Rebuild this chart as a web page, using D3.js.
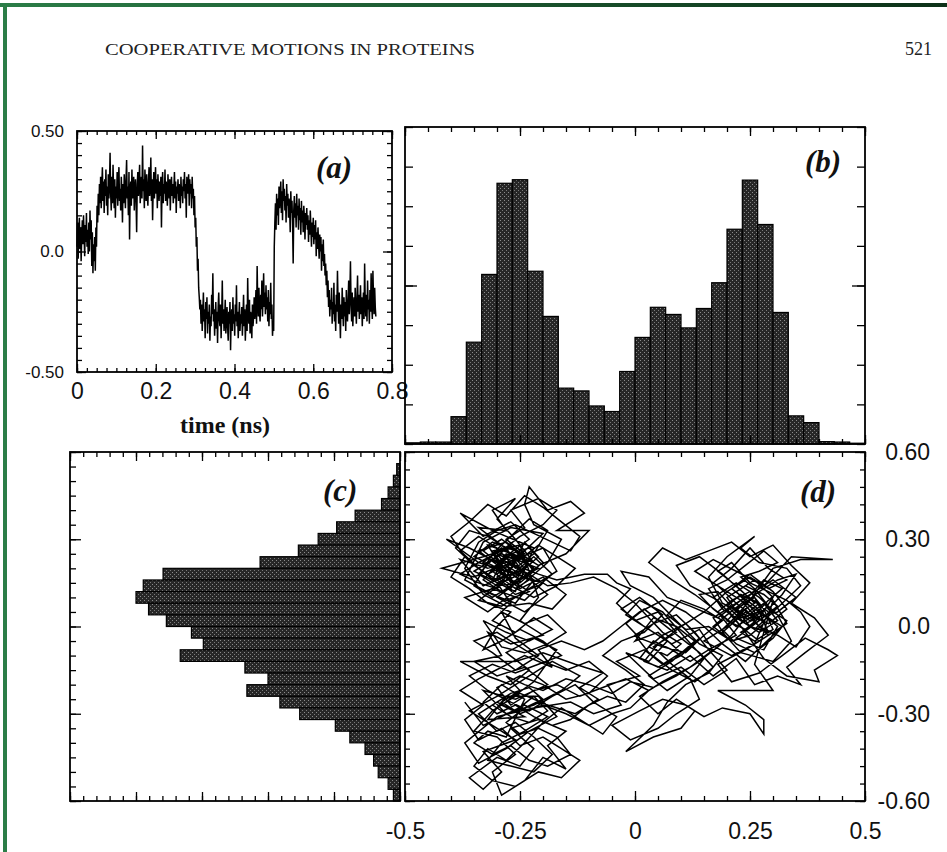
<!DOCTYPE html>
<html>
<head>
<meta charset="utf-8">
<script src="https://cdn.jsdelivr.net/npm/d3@7"></script>
<style>
body { margin: 0; background: #fff; }
svg { display: block; }
.tick line { stroke: #000; stroke-width: 1.3; }
.tick text { font-family: "Liberation Sans", Arial, sans-serif; fill: #111; }
</style>
</head>
<body>
<script>
//panel (a): trace value vs time, one sample every 0.0015 ns
var timeStep = 0.0015;
var traceValues = [
    0.02, 0.12, -0.03, 0.08, 0.14, 0.01, 0.10, -0.04, 0.06, 0.13,
    0.03, 0.15, 0.07, -0.02, 0.11, 0.04, 0.16, 0.02, 0.09, -0.01,
    0.12, 0.00, 0.17, 0.05, 0.13, -0.06, 0.08, -0.09, 0.03, -0.04,
    0.06, -0.08, 0.10, 0.02, 0.19, 0.12, 0.24, 0.15, 0.28, 0.20,
    0.31, 0.18, 0.27, 0.35, 0.21, 0.29, 0.16, 0.30, 0.23, 0.34,
    0.19, 0.27, 0.15, 0.32, 0.22, 0.28, 0.41, 0.24, 0.17, 0.31,
    0.20, 0.36, 0.25, 0.18, 0.30, 0.14, 0.27, 0.22, 0.33, 0.19,
    0.29, 0.35, 0.21, 0.26, 0.17, 0.31, 0.24, 0.12, 0.28, 0.20,
    0.32, 0.25, 0.18, 0.30, 0.38, 0.22, 0.27, 0.15, 0.33, 0.05,
    0.24, 0.29, 0.19, 0.34, 0.22, 0.27, 0.31, 0.17, 0.25, 0.30,
    0.21, 0.08, 0.28, 0.33, 0.23, 0.29, 0.36, 0.20, 0.26, 0.31,
    0.22, 0.44, 0.25, 0.30, 0.18, 0.34, 0.27, 0.21, 0.32, 0.24,
    0.19, 0.29, 0.35, 0.23, 0.27, 0.39, 0.21, 0.30, 0.13, 0.26,
    0.33, 0.22, 0.28, 0.35, 0.24, 0.30, 0.18, 0.32, 0.26, 0.21,
    0.29, 0.23, 0.31, 0.10, 0.27, 0.33, 0.20, 0.28, 0.24, 0.34,
    0.21, 0.29, 0.25, 0.19, 0.32, 0.26, 0.22, 0.30, 0.17, 0.27,
    0.31, 0.23, 0.28, 0.20, 0.26, 0.33, 0.22, 0.29, 0.16, 0.27,
    0.24, 0.30, 0.21, 0.28, 0.25, 0.18, 0.31, 0.23, 0.27, 0.20,
    0.30, 0.25, 0.33, 0.22, 0.28, 0.14, 0.31, 0.26, 0.24, 0.32,
    0.19, 0.30, 0.24, 0.28, 0.18, 0.31, 0.22, 0.26, 0.15, 0.23,
    0.10, 0.14, 0.02, 0.06, -0.08, -0.03, -0.15, -0.19, -0.24, -0.20,
    -0.30, -0.22, -0.33, -0.26, -0.17, -0.29, -0.24, -0.36, -0.21, -0.28,
    -0.19, -0.34, -0.25, -0.30, -0.22, -0.37, -0.27, -0.31, -0.18, -0.26,
    -0.09, -0.29, -0.24, -0.35, -0.27, -0.21, -0.32, -0.25, -0.38, -0.23,
    -0.17, -0.28, -0.31, -0.22, -0.36, -0.26, -0.12, -0.30, -0.24, -0.33,
    -0.27, -0.20, -0.34, -0.29, -0.23, -0.31, -0.37, -0.25, -0.30, -0.21,
    -0.41, -0.28, -0.24, -0.33, -0.19, -0.30, -0.26, -0.35, -0.22, -0.29,
    -0.14, -0.31, -0.25, -0.36, -0.28, -0.21, -0.33, -0.26, -0.30, -0.23,
    -0.35, -0.27, -0.18, -0.31, -0.24, -0.37, -0.29, -0.22, -0.33, -0.11,
    -0.26, -0.30, -0.20, -0.34, -0.25, -0.29, -0.36, -0.22, -0.31, -0.27,
    -0.19, -0.28, -0.23, -0.16, -0.30, -0.06, -0.21, -0.27, -0.15, -0.25,
    -0.29, -0.18, -0.24, -0.12, -0.27, -0.20, -0.09, -0.23, -0.17, -0.26,
    -0.14, -0.24, -0.19, -0.29, -0.16, -0.31, -0.21, -0.26, -0.13, -0.28,
    -0.22, -0.35, -0.30, -0.33, 0.02, 0.12, 0.20, 0.09, 0.24, 0.15,
    0.22, 0.11, 0.27, 0.18, 0.23, 0.29, 0.16, 0.25, 0.13, 0.30,
    0.21, 0.26, 0.17, 0.23, 0.12, 0.28, 0.19, 0.24, 0.14, 0.22,
    0.18, 0.08, 0.25, 0.16, 0.21, 0.11, -0.05, 0.17, 0.23, 0.14,
    0.20, 0.10, 0.24, 0.15, 0.19, 0.09, 0.22, 0.13, 0.18, 0.07,
    0.21, 0.12, 0.17, 0.08, 0.19, 0.14, 0.05, 0.16, 0.11, 0.18,
    0.09, 0.15, 0.04, 0.13, 0.07, 0.17, 0.10, 0.02, 0.12, 0.06,
    0.14, 0.03, 0.11, 0.05, 0.13, -0.02, 0.08, 0.01, 0.10, 0.04,
    -0.03, 0.07, 0.00, 0.06, -0.08, 0.03, -0.04, 0.05, -0.06, -0.01,
    -0.10, -0.05, -0.14, -0.08, -0.19, -0.12, -0.23, -0.16, -0.27, -0.20,
    -0.24, -0.15, -0.30, -0.21, -0.26, -0.13, -0.29, -0.22, -0.33, -0.18,
    -0.25, -0.08, -0.21, -0.30, -0.17, -0.26, -0.36, -0.22, -0.28, -0.15,
    -0.24, -0.31, -0.19, -0.27, -0.21, -0.33, -0.16, -0.25, -0.29, -0.20,
    -0.12, -0.26, -0.18, -0.04, -0.22, -0.29, -0.17, -0.31, -0.24, -0.19,
    -0.27, -0.15, -0.23, -0.30, -0.20, -0.10, -0.25, -0.18, -0.28, -0.22,
    -0.14, -0.26, -0.19, -0.31, -0.23, -0.17, -0.28, -0.05, -0.21, -0.27,
    -0.18, -0.29, -0.12, -0.24, -0.20, -0.30, -0.16, -0.25, -0.09, -0.22,
    -0.28, -0.08, -0.19, -0.26, -0.15, -0.23, -0.27
];

//panel (b): histogram of x, 30 bins from -0.5 to 0.5
var xBinStart = -0.5, xBinWidth = 1 / 30;
var xCounts = [0.03, 0.05, 0.05, 0.69, 2.57, 4.28, 6.58, 6.67, 4.36, 3.22,
    1.41, 1.34, 0.96, 0.82, 1.83, 2.69, 3.45, 3.27, 2.93, 3.42,
    4.07, 5.42, 6.66, 5.54, 3.32, 0.71, 0.54, 0.06, 0.05, 0.02];

//panel (c): histogram of y, 30 bins from 0.6 down to -0.6
var yBinTop = 0.6, yBinWidth = 0.04;
var yCounts = [0, 0.05, 0.10, 0.18, 0.28, 0.68, 0.96, 1.24, 1.54, 2.12,
    3.59, 3.89, 4.00, 3.81, 3.54, 3.16, 2.98, 3.33, 2.35, 2.00,
    2.32, 1.82, 1.52, 0.98, 0.76, 0.53, 0.40, 0.33, 0.18, 0.10];

//panel (d): the (x, y) trajectory
var trajectory = [
    [-0.30,0.18],[-0.25,0.24],[-0.32,0.28],[-0.27,0.15],[-0.21,0.20],[-0.29,0.25],[-0.35,0.19],[-0.26,0.12],[-0.22,0.27],[-0.31,0.33],
    [-0.38,0.39],[-0.33,0.31],[-0.27,0.36],[-0.23,0.30],[-0.30,0.22],[-0.36,0.27],[-0.41,0.30],[-0.34,0.22],[-0.28,0.19],[-0.20,0.15],
    [-0.24,0.09],[-0.31,0.13],[-0.37,0.10],[-0.32,0.05],[-0.27,0.11],[-0.19,0.22],[-0.16,0.30],[-0.22,0.35],[-0.24,0.42],[-0.23,0.48],
    [-0.19,0.40],[-0.14,0.43],[-0.11,0.39],[-0.17,0.33],[-0.10,0.33],[-0.15,0.25],[-0.21,0.21],[-0.27,0.27],[-0.33,0.24],[-0.42,0.20],
    [-0.35,0.17],[-0.29,0.21],[-0.25,0.16],[-0.30,0.10],[-0.24,0.05],[-0.19,0.11],[-0.25,0.19],[-0.31,0.16],[-0.28,0.25],[-0.22,0.22],
    [-0.26,0.30],[-0.30,0.37],[-0.26,0.44],[-0.31,0.40],[-0.28,0.33],[-0.34,0.34],[-0.29,0.28],[-0.24,0.20],[-0.33,0.14],[-0.38,0.23],
    [-0.32,0.20],[-0.26,0.23],[-0.20,0.27],[-0.17,0.19],[-0.23,0.13],[-0.29,0.07],[-0.34,0.09],[-0.27,0.17],[-0.31,0.26],[-0.25,0.28],
    [-0.21,0.10],[-0.25,0.02],[-0.20,-0.03],[-0.27,-0.06],[-0.32,-0.02],[-0.29,-0.10],[-0.35,-0.12],[-0.30,-0.17],[-0.24,-0.14],[-0.19,-0.20],
    [-0.26,-0.25],[-0.33,-0.22],[-0.28,-0.30],[-0.22,-0.27],[-0.16,-0.22],[-0.12,-0.17],[-0.18,-0.12],[-0.24,-0.18],[-0.30,-0.24],[-0.36,-0.29],
    [-0.31,-0.34],[-0.26,-0.39],[-0.33,-0.43],[-0.29,-0.50],[-0.33,-0.56],[-0.36,-0.52],[-0.30,-0.45],[-0.25,-0.48],[-0.22,-0.42],[-0.27,-0.35],
    [-0.21,-0.32],[-0.15,-0.36],[-0.19,-0.41],[-0.15,-0.49],[-0.20,-0.45],[-0.24,-0.53],[-0.29,-0.58],[-0.31,-0.50],[-0.26,-0.44],[-0.30,-0.38],
    [-0.35,-0.36],[-0.31,-0.29],[-0.25,-0.23],[-0.19,-0.27],[-0.13,-0.30],[-0.08,-0.25],[-0.12,-0.21],[-0.07,-0.16],[-0.13,-0.13],[-0.20,-0.09],
    [-0.26,-0.12],[-0.33,-0.12],[-0.38,-0.12],[-0.32,-0.17],[-0.27,-0.20],[-0.23,-0.15],[-0.28,-0.09],[-0.22,-0.04],[-0.17,-0.08],[-0.22,-0.19],
    [-0.29,-0.27],[-0.24,-0.31],[-0.32,-0.32],[-0.28,-0.24],[-0.21,-0.24],[-0.17,-0.31],[-0.23,-0.36],[-0.28,-0.42],[-0.34,-0.47],[-0.37,-0.40],
    [-0.30,-0.31],[-0.22,-0.28],[-0.14,-0.26],[-0.09,-0.30],[-0.03,-0.27],[-0.06,-0.20],[0.01,-0.17],[-0.04,-0.12],[0.02,-0.08],[0.06,-0.13],
    [0.10,-0.09],[0.05,-0.02],[0.00,-0.05],[0.04,0.03],[0.09,0.00],[0.13,-0.05],[0.08,-0.12],[0.03,-0.17],[0.07,-0.22],[0.12,-0.17],
    [0.15,-0.11],[0.11,-0.04],[0.06,0.05],[0.01,0.09],[-0.02,0.04],[0.03,-0.01],[0.08,-0.06],[0.14,-0.01],[0.17,-0.08],[0.12,-0.14],
    [0.06,-0.19],[0.01,-0.24],[0.05,-0.30],[0.09,-0.25],[0.13,-0.29],[0.10,-0.35],[0.04,-0.38],[-0.02,-0.43],[0.04,-0.34],[0.07,-0.26],
    [0.11,-0.20],[0.16,-0.16],[0.19,-0.10],[0.14,-0.06],[0.09,0.02],[0.04,0.10],[-0.01,0.14],[-0.03,0.19],[0.03,0.17],[0.07,0.10],
    [0.12,0.07],[0.18,0.03],[0.23,0.09],[0.27,0.02],[0.22,-0.04],[0.28,-0.08],[0.31,0.00],[0.26,0.07],[0.21,0.13],[0.25,0.18],
    [0.30,0.12],[0.33,0.06],[0.29,0.01],[0.24,0.05],[0.19,-0.02],[0.23,-0.09],[0.30,-0.12],[0.34,-0.05],[0.31,0.04],[0.27,0.10],
    [0.22,0.15],[0.17,0.10],[0.21,0.04],[0.26,-0.01],[0.32,0.08],[0.36,0.14],[0.33,0.20],[0.27,0.22],[0.23,0.27],[0.26,0.31],
    [0.20,0.24],[0.16,0.17],[0.19,0.08],[0.25,0.03],[0.29,-0.03],[0.24,-0.08],[0.18,-0.13],[0.21,-0.19],[0.27,-0.16],[0.32,-0.10],
    [0.37,-0.04],[0.42,-0.08],[0.44,-0.10],[0.39,-0.15],[0.40,-0.19],[0.33,-0.17],[0.28,-0.11],[0.24,-0.02],[0.20,0.06],[0.26,0.12],
    [0.30,0.16],[0.35,0.10],[0.31,0.05],[0.26,0.03],[0.22,0.08],[0.18,0.14],[0.13,0.19],[0.17,0.23],[0.22,0.19],[0.28,0.14],
    [0.34,0.24],[0.43,0.23],[0.36,0.23],[0.30,0.20],[0.25,0.09],[0.20,0.00],[0.15,-0.05],[0.21,-0.10],[0.26,-0.06],[0.29,0.05],
    [0.24,0.11],[0.19,0.18],[0.14,0.24],[0.09,0.21],[0.12,0.14],[0.18,0.09],[0.23,0.00],[0.27,-0.05],[0.33,0.01],[0.30,0.09],
    [0.26,-0.13],[0.30,-0.22],[0.22,-0.22],[0.18,-0.22],[0.24,-0.27],[0.28,-0.32],[0.28,-0.37],[0.25,-0.30],[0.19,-0.28],[0.15,-0.31],
    [0.11,-0.27],[0.06,-0.25],[0.01,-0.29],[-0.05,-0.34],[-0.01,-0.39],[0.05,-0.35],[0.09,-0.30],[0.14,-0.25],[0.12,-0.18],[0.08,-0.13],
    [0.04,-0.07],[0.09,-0.02],[0.05,0.05],[0.00,0.02],[-0.04,0.08],[-0.01,0.13],[-0.04,0.15],[-0.06,0.18],[-0.11,0.18],[-0.17,0.16],
    [-0.21,0.18],[-0.26,0.21],[-0.30,0.17],[-0.27,0.13],[-0.23,0.23],[-0.28,0.29],[-0.34,0.26],[-0.29,0.20],[-0.24,0.26],[-0.20,0.32],
    [-0.27,0.34],[-0.33,0.29],[-0.37,0.16],[-0.31,0.11],[-0.26,0.08],[-0.22,0.16],[-0.27,0.22],[-0.32,0.18],
    [-0.28,0.21],[-0.25,0.18],[-0.29,0.15],[-0.26,0.22],[-0.30,0.25],[-0.27,0.19],[-0.23,0.16],[-0.26,0.13],[-0.31,0.19],[-0.28,0.24],
    [-0.24,0.22],[-0.27,0.28],[-0.31,0.23],[-0.34,0.18],[-0.30,0.14],[-0.25,0.15],[-0.22,0.19],[-0.25,0.25],[-0.29,0.30],[-0.33,0.26],
    [-0.29,0.21],[-0.26,0.17],[-0.21,0.24],[-0.24,0.29],[-0.28,0.17],[-0.32,0.12],[-0.28,0.09],[-0.23,0.12],[-0.27,0.16],[-0.31,0.21],
    [-0.35,0.24],[-0.31,0.29],[-0.26,0.26],[-0.22,0.20],[-0.26,0.15],[-0.30,0.20],[-0.27,0.25],[-0.23,0.27],[-0.20,0.22],[-0.24,0.17],
    [-0.29,0.12],[-0.33,0.16],[-0.29,0.23],[-0.25,0.20],[-0.28,0.27],[-0.32,0.31],[-0.36,0.33],[-0.39,0.27],[-0.35,0.21],[-0.30,0.16],
    [-0.26,0.11],[-0.21,0.14],[-0.18,0.18],[-0.22,0.24],[-0.26,0.19],[-0.30,0.13],[-0.34,0.15],[-0.38,0.18],[-0.34,0.22],[-0.29,0.26],
    [-0.25,0.31],[-0.20,0.35],[-0.17,0.40],[-0.21,0.44],[-0.27,0.40],[-0.24,0.34],[-0.28,0.30],[-0.24,0.25],[-0.27,0.21],[-0.23,0.18],
    [-0.19,0.14],[-0.14,0.15],[-0.09,0.17],[-0.04,0.13],[0.00,0.08],[0.03,0.03],
    [0.06,-0.02],[0.10,-0.06],[0.07,-0.10],[0.03,-0.07],[0.06,-0.03],[0.11,0.01],[0.14,-0.04],[0.10,-0.10],[0.05,-0.14],[0.01,-0.11],
    [0.04,-0.05],[0.08,-0.08],[0.12,-0.12],[0.16,-0.08],[0.13,-0.02],[0.09,0.04],[0.04,0.01],[0.00,-0.03],[0.03,-0.09],[0.08,-0.15],
    [0.13,-0.19],[0.17,-0.14],[0.14,-0.09],[0.10,-0.04],[0.06,0.01],[0.02,0.06],[-0.02,0.01],[0.01,-0.04],[0.06,-0.07],[0.11,-0.09],
    [0.15,-0.03],[0.19,0.02],[0.15,0.06],[0.10,0.09],[0.07,0.04],[0.11,-0.01],[0.16,0.00],[0.20,-0.04],[0.17,0.03],[0.21,0.07],
    [0.24,0.04],[0.27,0.08],[0.23,0.11],[0.20,0.07],[0.24,0.01],[0.28,0.04],[0.26,0.10],[0.22,0.06],[0.25,0.00],[0.29,-0.02],
    [0.27,0.05],[0.23,0.03],[0.20,0.10],[0.24,0.14],[0.28,0.11],[0.31,0.07],[0.27,0.02],[0.23,-0.02],[0.26,-0.05],[0.30,-0.01],
    [0.28,0.06],[0.25,0.12],[0.21,0.09],[0.18,0.05],[0.22,0.00],[0.26,0.04],[0.29,0.09],[0.32,0.13],[0.28,0.16],[0.24,0.09],
    [0.20,0.04],[0.17,0.00],[0.21,-0.05],[0.25,-0.03],[0.28,0.01],[0.25,0.07],[0.22,0.12],[0.26,0.16],[0.30,0.10],[0.27,0.03],
    [0.24,-0.01],[0.20,0.02],[0.23,0.07],[0.27,0.12],[0.31,0.16],[0.35,0.18],[0.32,0.11],[0.29,0.06],[0.33,0.02],[0.30,-0.04],
    [0.26,-0.09],[0.22,-0.06],[0.19,-0.01],[0.23,0.05],[0.26,0.08],[0.22,0.14],[0.18,0.19],[0.21,0.22],[0.25,0.15],[0.29,0.12],
    [0.33,0.09],[0.36,0.05],[0.38,0.00],[0.35,-0.07],[0.31,-0.03],[0.27,0.00],[0.24,0.06],[0.21,0.01],[0.17,0.06],[0.14,0.11],
    [0.18,0.12],[0.22,0.05],[0.25,0.02],[0.29,0.07],[0.26,0.13],[0.23,0.17],[0.27,0.19],[0.31,0.22],[0.28,0.26],[0.24,0.21],
    [0.20,0.16],[0.16,0.13],[0.19,0.06],[0.23,0.02],[0.27,-0.02],[0.31,0.02],[0.28,0.08],[0.24,0.03],[0.21,-0.03],[0.18,-0.07],
    [0.14,-0.12],[0.09,-0.17],[0.04,-0.21],[-0.01,-0.19],[-0.05,-0.23],[-0.10,-0.20],[-0.15,-0.18],[-0.20,-0.22],[-0.24,-0.20],[-0.28,-0.17],
    [-0.25,-0.22],[-0.29,-0.26],[-0.26,-0.29],[-0.22,-0.24],[-0.19,-0.29],[-0.23,-0.33],[-0.27,-0.31],[-0.31,-0.27],[-0.27,-0.23],[-0.23,-0.21],
    [-0.20,-0.25],[-0.24,-0.28],[-0.28,-0.33],[-0.25,-0.37],[-0.21,-0.35],[-0.17,-0.38],[-0.14,-0.44],[-0.19,-0.48],[-0.23,-0.46],[-0.27,-0.41],
    [-0.31,-0.44],[-0.35,-0.40],[-0.32,-0.36],[-0.28,-0.38],[-0.24,-0.25],[-0.29,-0.20],[-0.33,-0.26],[-0.30,-0.30],[-0.26,-0.27],[-0.22,-0.31],
    [-0.18,-0.34],[-0.14,-0.32],[-0.10,-0.27],[-0.06,-0.24],[-0.02,-0.26],[0.02,-0.20],[-0.02,-0.15],[-0.07,-0.10],[-0.03,-0.05],[0.02,-0.02],
    [0.06,0.04],[0.01,0.10],[-0.03,0.06],[0.02,0.00],[0.07,-0.05],[0.03,-0.12],[-0.02,-0.09],[0.04,-0.18],[0.10,-0.14],[0.15,-0.20],
    [0.20,-0.15],[0.16,-0.08],[0.22,-0.03],[0.18,0.05],[0.13,0.11],[0.08,0.16],[0.03,0.22],[0.06,0.27],[0.11,0.23],[0.16,0.26],
    [0.21,0.29],[0.25,0.24],[0.30,0.28],[0.34,0.21],[0.38,0.15],[0.34,0.08],[0.39,0.03],[0.42,-0.03],[0.37,-0.09],[0.33,-0.14],
    [0.36,-0.20],[0.31,-0.17],[0.26,-0.20],[0.22,-0.11],[0.17,-0.17],[0.12,-0.10],[0.07,-0.15],[0.02,-0.12],[0.05,-0.06],[0.10,0.00],
    [0.15,0.05],[0.20,0.12],[0.25,0.17],[0.29,0.13],[0.33,0.16],[0.29,0.20],[0.25,0.27],[0.21,0.20],[0.17,0.15],[0.22,0.10],
    [0.27,0.05],[0.32,0.00],[0.28,-0.06],[0.24,-0.12],[0.19,-0.06],[0.15,0.00],[0.11,0.05],[0.06,0.09],[0.01,0.05],[-0.03,0.00],
    [-0.07,-0.05],[-0.11,-0.08],[-0.16,-0.05],[-0.21,-0.08],[-0.18,-0.14],[-0.24,-0.10],
    [-0.29,-0.14],[-0.34,-0.18],[-0.38,-0.22],[-0.33,-0.27],[-0.37,-0.32],[-0.34,-0.39],[-0.29,-0.35],[-0.25,-0.41],[-0.20,-0.38],[-0.16,-0.42],
    [-0.12,-0.46],[-0.16,-0.52],[-0.21,-0.50],[-0.26,-0.55],[-0.31,-0.53],[-0.35,-0.48],[-0.32,-0.42],[-0.28,-0.46],[-0.24,-0.40],[-0.20,-0.33],
    [-0.16,-0.28],[-0.11,-0.33],[-0.07,-0.37],[-0.04,-0.31],[-0.09,-0.26],[-0.13,-0.20],[-0.18,-0.24],[-0.23,-0.29],[-0.27,-0.26],[-0.32,-0.22],
    [-0.36,-0.17],[-0.31,-0.13],[-0.26,-0.16],[-0.21,-0.13],[-0.16,-0.10],[-0.20,-0.05],[-0.25,-0.01],[-0.29,-0.05],[-0.33,-0.08],[-0.30,0.00],
    [-0.27,0.05],[-0.32,0.08],[-0.36,0.13],[-0.40,0.17],[-0.37,0.24],[-0.40,0.31],[-0.36,0.36],[-0.32,0.42],[-0.28,0.38],[-0.24,0.45],
    [-0.20,0.41],[-0.16,0.36],[-0.12,0.31],[-0.14,0.26],[-0.18,0.29],[-0.22,0.32],[-0.26,0.35],[-0.30,0.33],[-0.34,0.29],[-0.37,0.20],
    [-0.33,0.11],[-0.28,0.07],[-0.23,0.08],[-0.18,0.06],[-0.15,0.11],[-0.20,0.17],[-0.25,0.13],[-0.29,0.18],[-0.33,0.22],[-0.29,0.27],
    [-0.25,0.23],[-0.21,0.28],[-0.17,0.24],[-0.13,0.20],[-0.17,0.14],[-0.22,0.10],[-0.27,0.14],[-0.31,0.10],[-0.35,0.14],[-0.31,0.25],
    [-0.27,0.31],[-0.23,0.37],[-0.19,0.33],[-0.22,0.25],[-0.26,0.20],[-0.30,0.27],[-0.34,0.31],[-0.38,0.26],[-0.34,0.20],[-0.30,0.15],
    [-0.27,0.08],[-0.31,0.02],[-0.26,-0.02],[-0.22,0.03],[-0.18,-0.01],[-0.23,-0.05],[-0.28,-0.02],[-0.33,0.02],[-0.29,-0.07],[-0.24,-0.09],
    [-0.19,-0.06],[-0.15,-0.02],[-0.19,0.04],[-0.24,0.01],[-0.29,0.05],[-0.26,-0.04],[-0.21,-0.10],[-0.26,-0.15],[-0.31,-0.09],[-0.35,-0.05],
    [-0.30,-0.02],[-0.25,-0.07],[-0.20,-0.12],[-0.15,-0.15],[-0.10,-0.12],[-0.06,-0.17],[-0.10,-0.23],[-0.15,-0.25],[-0.20,-0.20],[-0.25,-0.17],
    [-0.30,-0.21],[-0.27,-0.27],[-0.22,-0.22],[-0.17,-0.20],[-0.12,-0.24],[-0.07,-0.21],[-0.02,-0.18],[0.03,-0.22],[-0.01,-0.28],[-0.05,-0.30],
    [-0.10,-0.34],[-0.15,-0.30],[-0.20,-0.27],[-0.25,-0.30],[-0.30,-0.26],[-0.34,-0.30],[-0.30,-0.36],[-0.26,-0.33],[-0.22,-0.38],[-0.18,-0.44],
    [-0.22,-0.50],[-0.27,-0.48],[-0.32,-0.46],[-0.29,-0.40],[-0.24,-0.36],[-0.19,-0.31],[-0.24,-0.27],[-0.29,-0.31],[-0.33,-0.34],[-0.37,-0.26]
];

//tick values and their labels
var timeTicks = [0, 0.2, 0.4, 0.6, 0.8];
var timeTickLabels = ["0", "0.2", "0.4", "0.6", "0.8"];
var traceTicks = [-0.5, 0, 0.5];
var traceTickLabels = ["-0.50", "0.0", "0.50"];
var xTicks = [-0.5, -0.25, 0, 0.25, 0.5];
var xTickLabels = ["-0.5", "-0.25", "0", "0.25", "0.5"];
var yTicks = [0.6, 0.3, 0, -0.3, -0.6];
var yTickLabels = ["0.60", "0.30", "0.0", "-0.30", "-0.60"];
var panelNames = ["(a)", "(b)", "(c)", "(d)"];

var w = 947, h = 852;
var svg = d3.select("body").append("svg")
    .attr("width", w)
    .attr("height", h);

//dotted halftone fill for the histogram bars
var defs = svg.append("defs");
var pat = defs.append("pattern")
    .attr("id", "dots")
    .attr("patternUnits", "userSpaceOnUse")
    .attr("width", 4).attr("height", 4);
pat.append("rect").attr("width", 4).attr("height", 4).attr("fill", "#272727");
pat.append("rect").attr("x", 0).attr("y", 0).attr("width", 1).attr("height", 1).attr("fill", "#8c8c8c");
pat.append("rect").attr("x", 2).attr("y", 2).attr("width", 1).attr("height", 1).attr("fill", "#7a7a7a");

//green page border
var grad = defs.append("linearGradient").attr("id", "greenFade");
grad.append("stop").attr("offset", "0%").attr("stop-color", "#2b7d47");
grad.append("stop").attr("offset", "100%").attr("stop-color", "#0c3118");
svg.append("rect").attr("x", 0).attr("y", 3).attr("width", w).attr("height", 4).attr("fill", "url(#greenFade)");
svg.append("rect").attr("x", 3).attr("y", 3).attr("width", 4).attr("height", h).attr("fill", "#2b7d47");

//page header
svg.append("text")
    .attr("x", 105).attr("y", 55)
    .attr("textLength", 370)
    .attr("lengthAdjust", "spacingAndGlyphs")
    .style("font-family", "'Liberation Serif', serif")
    .style("font-size", "17px")
    .style("fill", "#222")
    .text("COOPERATIVE MOTIONS IN PROTEINS");
svg.append("text")
    .attr("x", 932).attr("y", 55)
    .attr("text-anchor", "end")
    .style("font-family", "'Liberation Serif', serif")
    .style("font-size", "18px")
    .style("fill", "#222")
    .text("521");

//draws one set of inward ticks on an edge
function addTicks(axisFn, scale, values, size, pos, horizontal, labels, fontSize, pad){
    var ax = axisFn(scale).tickValues(values).tickSize(-size).tickPadding(pad || 0);
    if (labels) {
        ax.tickFormat(function(d, i){ return labels[i]; });
    } else {
        ax.tickFormat("");
    }
    var g = svg.append("g")
        .attr("transform", horizontal ? "translate(0," + pos + ")" : "translate(" + pos + ",0)")
        .call(ax);
    g.select(".domain").remove();
    if (labels) g.selectAll("text").style("font-size", fontSize + "px");
    return g;
}

function steps(a, b, step){
    var n = Math.round((b - a) / step);
    return d3.range(n + 1).map(function(i){ return a + i * step; });
}

function frame(x0, y0, x1, y1){
    svg.append("rect")
        .attr("x", x0).attr("y", y0)
        .attr("width", x1 - x0).attr("height", y1 - y0)
        .attr("fill", "none")
        .attr("stroke", "#000")
        .attr("stroke-width", 1.8);
}

function panelLabel(name, x, y){
    svg.append("text")
        .attr("x", x).attr("y", y)
        .style("font-family", "'Liberation Serif', serif")
        .style("font-style", "italic")
        .style("font-weight", "bold")
        .style("font-size", "31px")
        .style("fill", "#111")
        .text(name);
}

// ---------- panel (a) ----------
var ax = d3.scaleLinear().domain([0, 0.8]).range([77, 392]);
var ay = d3.scaleLinear().domain([-0.5, 0.5]).range([372, 131]);

var traceLine = d3.line()
    .x(function(d, i){ return ax(i * timeStep); })
    .y(function(d){ return ay(d); });
svg.append("path")
    .datum(traceValues)
    .attr("d", traceLine)
    .attr("fill", "none")
    .attr("stroke", "#000")
    .attr("stroke-width", 1.5);

addTicks(d3.axisBottom, ax, steps(0, 0.8, 0.025), 4, 372, true);
addTicks(d3.axisBottom, ax, timeTicks, 8, 372, true, timeTickLabels, 23, 11);
addTicks(d3.axisTop, ax, steps(0, 0.8, 0.025), 4, 131, true);
addTicks(d3.axisTop, ax, timeTicks, 8, 131, true);
addTicks(d3.axisLeft, ay, steps(-0.5, 0.5, 0.05), 5, 77, false);
addTicks(d3.axisLeft, ay, traceTicks, 9, 77, false, traceTickLabels, 17, 13);
addTicks(d3.axisRight, ay, steps(-0.5, 0.5, 0.05), 5, 392, false);
addTicks(d3.axisRight, ay, traceTicks, 9, 392, false);
frame(77, 131, 392, 372);
panelLabel(panelNames[0], 316, 178);

svg.append("text")
    .attr("x", 225).attr("y", 433)
    .attr("text-anchor", "middle")
    .style("font-family", "'Liberation Serif', serif")
    .style("font-weight", "bold")
    .style("font-size", "24px")
    .style("fill", "#111")
    .text("time (ns)");

// ---------- panel (b) ----------
var bx = d3.scaleLinear().domain([-0.5, 0.5]).range([405, 865]);
var by = d3.scaleLinear().domain([0, 8]).range([444, 127]);

svg.selectAll(".xbar")
    .data(xCounts)
    .enter()
    .append("rect")
    .attr("class", "xbar")
    .attr("x", function(d, i){ return bx(xBinStart + i * xBinWidth); })
    .attr("width", function(d, i){ return bx(xBinStart + (i + 1) * xBinWidth) - bx(xBinStart + i * xBinWidth); })
    .attr("y", function(d){ return by(d); })
    .attr("height", function(d){ return by(0) - by(d); })
    .attr("fill", "url(#dots)")
    .attr("stroke", "#000")
    .attr("stroke-width", 1.2);

addTicks(d3.axisTop, bx, steps(-0.5, 0.5, 0.05), 5, 127, true);
addTicks(d3.axisTop, bx, xTicks, 9, 127, true);
addTicks(d3.axisBottom, bx, steps(-0.5, 0.5, 0.05), 5, 444, true);
addTicks(d3.axisBottom, bx, xTicks, 9, 444, true);
addTicks(d3.axisLeft, by, steps(0, 8, 1), 8, 405, false);
addTicks(d3.axisLeft, by, [4], 12, 405, false);
addTicks(d3.axisRight, by, steps(0, 8, 1), 8, 865, false);
addTicks(d3.axisRight, by, [4], 13, 865, false);
frame(405, 127, 865, 444);
panelLabel(panelNames[1], 805, 172);

// ---------- panel (c) ----------
var cx = d3.scaleLinear().domain([0, 5]).range([400, 70]);
var cy = d3.scaleLinear().domain([-0.6, 0.6]).range([801, 452]);

svg.selectAll(".ybar")
    .data(yCounts)
    .enter()
    .append("rect")
    .attr("class", "ybar")
    .attr("x", function(d){ return cx(d); })
    .attr("width", function(d){ return cx(0) - cx(d); })
    .attr("y", function(d, i){ return cy(yBinTop - i * yBinWidth); })
    .attr("height", function(d, i){ return cy(yBinTop - (i + 1) * yBinWidth) - cy(yBinTop - i * yBinWidth); })
    .attr("fill", "url(#dots)")
    .attr("stroke", "#000")
    .attr("stroke-width", 1.2);

addTicks(d3.axisTop, cx, steps(0, 5, 0.2), 5, 452, true);
addTicks(d3.axisTop, cx, steps(0, 5, 1), 9, 452, true);
addTicks(d3.axisBottom, cx, steps(0, 5, 0.2), 5, 801, true);
addTicks(d3.axisBottom, cx, steps(0, 5, 1), 9, 801, true);
addTicks(d3.axisLeft, cy, steps(-0.6, 0.6, 0.05), 6, 70, false);
addTicks(d3.axisLeft, cy, steps(-0.6, 0.6, 0.3), 11, 70, false);
frame(70, 452, 400, 801);
panelLabel(panelNames[2], 323, 501);

// ---------- panel (d) ----------
var dx = d3.scaleLinear().domain([-0.5, 0.5]).range([405, 865]);
var dy = d3.scaleLinear().domain([-0.6, 0.6]).range([801, 452]);

var trajLine = d3.line()
    .x(function(d){ return dx(d[0]); })
    .y(function(d){ return dy(d[1]); });
svg.append("path")
    .datum(trajectory)
    .attr("d", trajLine)
    .attr("fill", "none")
    .attr("stroke", "#000")
    .attr("stroke-width", 1.5);

addTicks(d3.axisBottom, dx, steps(-0.5, 0.5, 0.05), 5, 801, true);
addTicks(d3.axisBottom, dx, xTicks, 10, 801, true, xTickLabels, 23, 22);
addTicks(d3.axisTop, dx, steps(-0.5, 0.5, 0.05), 5, 452, true);
addTicks(d3.axisTop, dx, xTicks, 10, 452, true);
addTicks(d3.axisLeft, dy, steps(-0.6, 0.6, 0.06), 5, 405, false);
addTicks(d3.axisLeft, dy, yTicks, 10, 405, false);
addTicks(d3.axisRight, dy, steps(-0.6, 0.6, 0.06), 5, 865, false);
var yAxisRight = addTicks(d3.axisRight, dy, yTicks, 10, 865, false, yTickLabels, 23, 0);
yAxisRight.selectAll("text")
    .attr("text-anchor", "end")
    .attr("x", 65);
frame(405, 452, 865, 801);
panelLabel(panelNames[3], 800, 502);
</script>
</body>
</html>
